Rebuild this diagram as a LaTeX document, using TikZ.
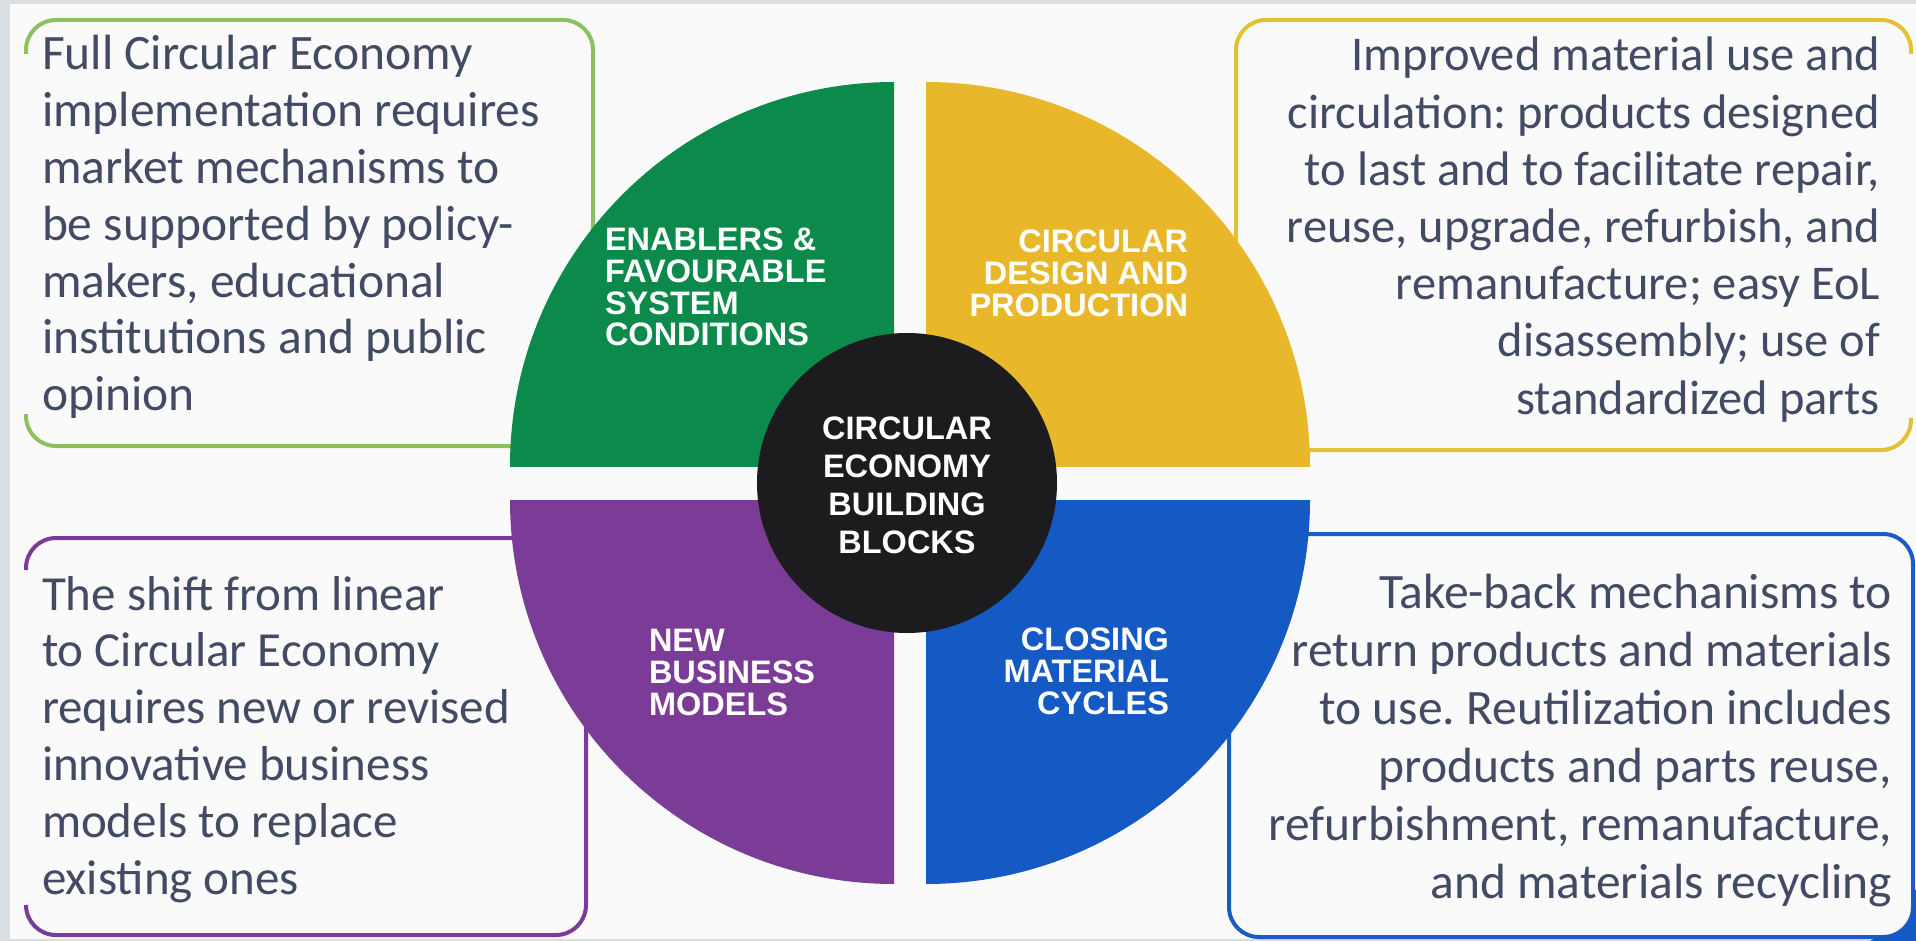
\documentclass[tikz,border=0pt]{standalone}
\usepackage{fontspec}
\setmainfont{Carlito}
\newfontfamily\lblfont{Liberation Sans}
\frenchspacing
\definecolor{greenC}{HTML}{0B8A4B}
\definecolor{yellowC}{HTML}{E9B82A}
\definecolor{purpleC}{HTML}{7B3C97}
\definecolor{blueC}{HTML}{1559C4}
\definecolor{hubC}{HTML}{1C1C1E}
\definecolor{greenLine}{HTML}{8DC15F}
\definecolor{yellowLine}{HTML}{E2C232}
\definecolor{purpleLine}{HTML}{7B3C97}
\definecolor{blueLine}{HTML}{1A5CC2}
\definecolor{txtC}{HTML}{434A63}
\definecolor{frameC}{HTML}{D9DEE3}
\definecolor{paperC}{HTML}{FAFAFA}
\tikzset{
  boxline/.style={line width=2pt, rounded corners=15pt},
  bodytext/.style={inner sep=0pt, outer sep=0pt, text=txtC,
    font=\fontsize{24.75}{28.4}\selectfont},
  lbltext/.style={inner sep=0pt, outer sep=0pt, text=white,
    font=\lblfont\bfseries\fontsize{16.25}{15}\selectfont},
}
\begin{document}
\begin{tikzpicture}[x=0.5pt,y=-0.5pt]
\useasboundingbox (0,0) rectangle (1916,941);
% background
\fill[frameC] (0,0) rectangle (1916,941);
\fill[paperC] (10,4) rectangle (1916,939);

% ---------- text boxes (outlines) ----------
% green (top left)
\draw[greenLine, boxline] (26,54) -- (26,20) -- (593,20) -- (593,440);
\draw[greenLine, boxline] (26,414) -- (26,446) -- (700,446);
% yellow (top right)
\draw[yellowLine, boxline] (1236,400) -- (1236,20) -- (1911,20) -- (1911,54);
\draw[yellowLine, boxline] (1911,418) -- (1911,450) -- (1100,450);
% purple (bottom left)
\draw[purpleLine, boxline] (26,570) -- (26,538) -- (700,538);
\draw[purpleLine, boxline] (586,700) -- (586,935) -- (26,935) -- (26,905);
% blue (bottom right)
\draw[blueLine, boxline] (1100,534) -- (1913,534) -- (1913,937) -- (1229,937) -- (1229,700);
\fill[blueC] (1916,890) -- (1913,890) -- (1913,901) .. controls (1913,923) and (1899,937) .. (1877,937) -- (1870,941) -- (1916,941) -- cycle;

% ---------- quadrants ----------
\begin{scope}
  \clip (0,0) rectangle (894,466);
  \fill[greenC] (894,466) circle[radius=192pt];
\end{scope}
\begin{scope}
  \clip (926,0) rectangle (1916,466);
  \fill[yellowC] (926,466) circle[radius=192pt];
\end{scope}
\begin{scope}
  \clip (0,500) rectangle (894,941);
  \fill[purpleC] (894,500) circle[radius=192pt];
\end{scope}
\begin{scope}
  \clip (926,500) rectangle (1916,941);
  \fill[blueC] (926,500) circle[radius=192pt];
\end{scope}

% ---------- hub ----------
\node[circle, fill=hubC, minimum size=150pt, inner sep=0pt] (hub) at (907,483) {};
\node[lbltext, anchor=base, font=\lblfont\bfseries\fontsize{16.25}{19}\selectfont] (hubtext) at (907,439)
  {\begin{tabular}[t]{@{}c@{}}CIRCULAR\\ ECONOMY\\ BUILDING\\ BLOCKS\end{tabular}};

% ---------- quadrant labels ----------
\node[lbltext, anchor=base west, font=\lblfont\bfseries\fontsize{16.25}{14.85}\selectfont] (enablers) at (605,251)
  {\begin{tabular}[t]{@{}l@{}}ENABLERS \&\\ FAVOURABLE\\ SYSTEM\\ CONDITIONS\end{tabular}};
\node[lbltext, anchor=base east, font=\lblfont\bfseries\fontsize{16.25}{14.7}\selectfont] (design) at (1188,253)
  {\begin{tabular}[t]{@{}r@{}}CIRCULAR\\ DESIGN AND\\ PRODUCTION\end{tabular}};
\node[lbltext, anchor=base west, font=\lblfont\bfseries\fontsize{16.25}{16.2}\selectfont] (business) at (649,651)
  {\begin{tabular}[t]{@{}l@{}}NEW\\ BUSINESS\\ MODELS\end{tabular}};
\node[lbltext, anchor=base east, font=\lblfont\bfseries\fontsize{16.25}{16.2}\selectfont] (closing) at (1169,650)
  {\begin{tabular}[t]{@{}r@{}}CLOSING\\ MATERIAL\\ CYCLES\end{tabular}};

% ---------- box texts ----------
\node[bodytext, anchor=base west] (greentext) at (42,70)
  {\begin{tabular}[t]{@{}l@{}}Full Circular Economy\\ implementation requires\\ market mechanisms to\\ be supported by policy-\\ makers, educational\\ institutions and public\\ opinion\end{tabular}};
\node[bodytext, anchor=base east, font=\fontsize{24.25}{28.6}\selectfont] (yellowtext) at (1880,71)
  {\begin{tabular}[t]{@{}r@{}}Improved material use and\\ circulation: products designed\\ to last and to facilitate repair,\\ reuse, upgrade, refurbish, and\\ remanufacture; easy EoL\\ disassembly; use of\\ standardized parts\end{tabular}};
\node[bodytext, anchor=base west, font=\fontsize{24.5}{28.4}\selectfont] (purpletext) at (42,610)
  {\begin{tabular}[t]{@{}l@{}}The shift from linear\\ to Circular Economy\\ requires new or revised\\ innovative business\\ models to replace\\ existing ones\end{tabular}};
\node[bodytext, anchor=base east, font=\fontsize{24.75}{29}\selectfont] (bluetext) at (1892,608)
  {\begin{tabular}[t]{@{}r@{}}Take-back mechanisms to\\ return products and materials\\ to use. Reutilization includes\\ products and parts reuse,\\ refurbishment, remanufacture,\\ and materials recycling\end{tabular}};
\end{tikzpicture}
\end{document}
